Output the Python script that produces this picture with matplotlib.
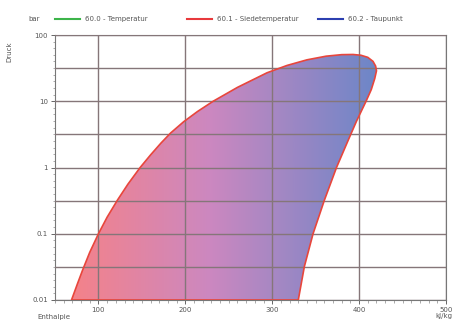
import numpy as np
import matplotlib
matplotlib.use('Agg')
import matplotlib.pyplot as plt
from matplotlib.colors import LinearSegmentedColormap
from matplotlib.lines import Line2D
from matplotlib.ticker import FixedLocator, NullFormatter

# saturation dome (enthalpy kJ/kg, pressure bar)
h_liquid = [69, 76, 82, 90, 100, 110, 122, 134, 148, 160, 172, 183, 198, 214, 232, 260, 294, 317,
            340, 362, 380, 393]
p_liquid = [0.01, 0.0178, 0.0288, 0.0525, 0.1, 0.178, 0.324, 0.562, 1.0, 1.55, 2.34, 3.31, 4.9,
            7.0, 10, 16.2, 26.9, 34.7, 42.2, 47.9, 50.5, 50.8]
h_vapour = [402, 410, 416, 419, 420, 418, 414, 408, 397, 387, 374, 360, 347, 337, 330]
p_vapour = [49.5, 46, 40, 34, 28.8, 22, 15, 10, 5.0, 2.5, 1.0, 0.32, 0.1, 0.032, 0.01]

x_ticks = [100, 200, 300, 400, 500]
y_ticks = [0.01, 0.1, 1, 10, 100]
y_labels = ['0.01', '0.1', '1', '10', '100']
legend_labels = ['60.0 - Temperatur', '60.1 - Siedetemperatur', '60.2 - Taupunkt']
legend_colors = ['#3cb44a', '#e8393c', '#2c3fb0']

txt = '#555555'
grid_c = '#857679'

fig = plt.figure(figsize=(4.56, 3.23), dpi=100)
ax = fig.add_axes([55 / 456, 1 - 300 / 323, 391 / 456, 265 / 323])
ax.set_xlim(50, 500)
ax.set_yscale('log')
ax.set_ylim(0.01, 100)

h = h_liquid + h_vapour
p = p_liquid + p_vapour
poly = ax.fill(h, p, facecolor='none', edgecolor='#e8463c', linewidth=1.2, zorder=4,
               joinstyle='round')[0]

cmap = LinearSegmentedColormap.from_list('dome', [(0, '#f4828a'), (0.45, '#cc88c0'), (1, '#6c86c8')])
grad = np.linspace(0, 1, 256).reshape(1, -1)
im = ax.imshow(grad, cmap=cmap, aspect='auto', extent=[min(h), max(h), 0.01, 100],
               origin='lower', zorder=2, interpolation='bilinear')
im.set_clip_path(poly)

# grid: decades plus half decades
for yv in 10 ** np.arange(-2, 2.01, 0.5):
    ax.axhline(yv, color=grid_c, lw=1.0, zorder=3)
for xv in x_ticks:
    ax.axvline(xv, color=grid_c, lw=1.0, zorder=3)

ax.yaxis.set_major_locator(FixedLocator(y_ticks))
ax.set_yticklabels(y_labels)
ax.yaxis.set_minor_locator(FixedLocator(10 ** np.arange(-2, 2.01, 0.1)))
ax.yaxis.set_minor_formatter(NullFormatter())
ax.set_xticks(x_ticks)
ax.xaxis.set_minor_locator(FixedLocator(np.arange(50, 501, 10)))
ax.tick_params(which='major', length=3, width=0.7, color='#666666', labelsize=5, labelcolor=txt, pad=2)
ax.tick_params(which='minor', length=1.8, width=0.5, color='#888888')
for s in ax.spines.values():
    s.set_color('#777777')
    s.set_linewidth(0.8)

# header legend
fig.text(28 / 456, 1 - 19 / 323, 'bar', fontsize=5, color=txt, va='center')
fig.text(9 / 456, 1 - 52 / 323, 'Druck', fontsize=5, color=txt, rotation=90, ha='center', va='center')
fig.text(37 / 456, 1 - 317 / 323, 'Enthalpie', fontsize=5, color=txt, va='center')
fig.text(452 / 456, 1 - 316 / 323, 'kJ/kg', fontsize=5, color=txt, va='center', ha='right')
starts = [55, 187, 318]
for x0, lab, col in zip(starts, legend_labels, legend_colors):
    fig.add_artist(Line2D([x0 / 456, (x0 + 25) / 456], [1 - 19 / 323] * 2, color=col, lw=1.5))
    fig.text((x0 + 30) / 456, 1 - 19 / 323, lab, fontsize=5, color=txt, va='center')

fig.savefig('out.png', dpi=100)
